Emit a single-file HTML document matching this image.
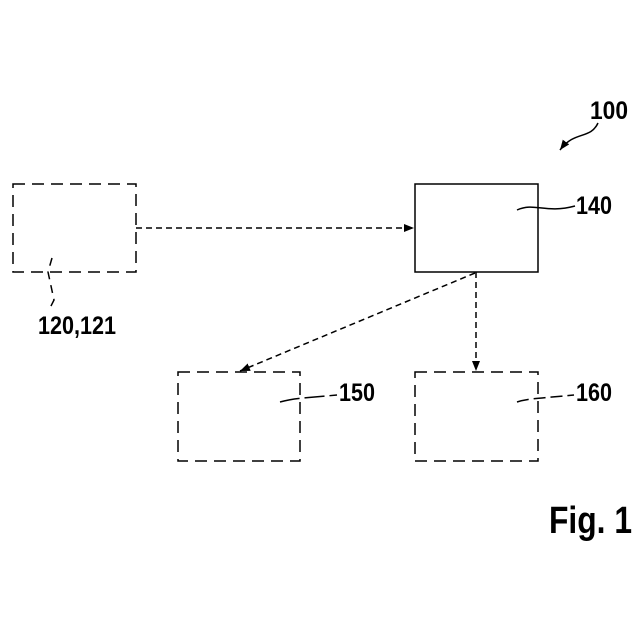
<!DOCTYPE html>
<html><head><meta charset="utf-8"><style>
html,body{margin:0;padding:0;background:#fff;}
svg{display:block}
text{font-family:"Liberation Sans Narrow","Liberation Sans",sans-serif;font-weight:bold;fill:#000;}
</style></head><body>
<svg width="640" height="640" viewBox="0 0 640 640" xmlns="http://www.w3.org/2000/svg">
<defs><marker id="a" markerWidth="10" markerHeight="8" refX="10" refY="4" orient="auto" markerUnits="userSpaceOnUse"><path d="M0,0 L10,4 L0,8 z" fill="#000"/></marker></defs>
<g fill="none" stroke="#000" stroke-width="1.5">
<rect x="13" y="184" width="123" height="88" stroke-dasharray="12,7"/>
<rect x="415" y="184" width="123" height="88"/>
<rect x="178" y="372" width="122" height="89" stroke-dasharray="12,7"/>
<rect x="415" y="372" width="123" height="89" stroke-dasharray="12,7"/>
<line x1="136" y1="228" x2="414" y2="228" stroke-dasharray="6,4" marker-end="url(#a)"/>
<line x1="476" y1="272" x2="476" y2="371" stroke-dasharray="6,4" marker-end="url(#a)"/>
<line x1="475" y1="273" x2="240" y2="371" stroke-dasharray="6,4" marker-end="url(#a)"/>
<path d="M598,123 C590,140 575,130 560,150" marker-end="url(#a)"/>
<path d="M517,210 C535,202 545,214 575,206"/>
<path d="M52,258 L48,272 L54,300 L50,308" stroke-dasharray="8,6"/>
<path d="M280,402 C295,398 305,398 337,395" stroke-dasharray="20,5"/>
<path d="M517,402 C530,398 545,398 574,395" stroke-dasharray="12,5"/>
</g>
<text x="590" y="119" font-size="25" textLength="38" lengthAdjust="spacingAndGlyphs">100</text>
<text x="576" y="214" font-size="25" textLength="36" lengthAdjust="spacingAndGlyphs">140</text>
<text x="38" y="334" font-size="25" textLength="78" lengthAdjust="spacingAndGlyphs">120,121</text>
<text x="339" y="401" font-size="25" textLength="36" lengthAdjust="spacingAndGlyphs">150</text>
<text x="576" y="401" font-size="25" textLength="36" lengthAdjust="spacingAndGlyphs">160</text>
<text x="549" y="533" font-size="38" textLength="83" lengthAdjust="spacingAndGlyphs">Fig. 1</text>
</svg>
</body></html>
